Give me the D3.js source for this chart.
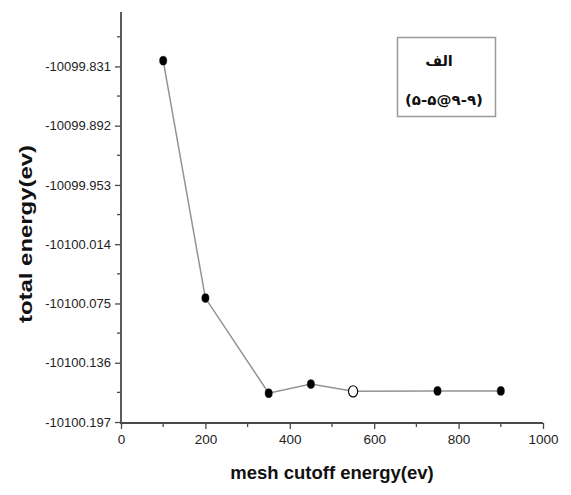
<!DOCTYPE html>
<html>
<head>
<meta charset="utf-8">
<script src="https://cdn.jsdelivr.net/npm/d3@7/dist/d3.min.js"></script>
<style>
  html, body { margin: 0; padding: 0; background: #fff; }
  svg { display: block; }
</style>
</head>
<body>
<svg id="chart" width="571" height="495"></svg>
<script>
// Convergence of total energy with the mesh cutoff energy
const cutoff = [100, 200, 350, 450, 550, 750, 900];
const totalEnergy = [-10099.8251, -10100.0694, -10100.1674, -10100.1579, -10100.1654, -10100.1650, -10100.1650];
const openMarker = [false, false, false, false, true, false, false];

const xTicks = [0, 200, 400, 600, 800, 1000];
const xMinorTicks = [100, 300, 500, 700, 900];
const yTicks = [-10099.831, -10099.892, -10099.953, -10100.014, -10100.075, -10100.136, -10100.197];
const yTickLabels = ["-10099.831", "-10099.892", "-10099.953", "-10100.014", "-10100.075", "-10100.136", "-10100.197"];
const yMinorTicks = [-10099.8005, -10099.8615, -10099.9225, -10099.9835, -10100.0445, -10100.1055, -10100.1665];

const legendTitle = "الف";
const legendSub = "(۵-۵@۹-۹)";
const xTitle = "mesh cutoff energy(ev)";
const yTitle = "total energy(ev)";

const svg = d3.select("#chart");
const plotLeft = 121, plotRight = 543, plotTop = 12, plotBottom = 423;

const x = d3.scaleLinear().domain([0, 1000]).range([plotLeft, plotRight]);
const y = d3.scaleLinear().domain([-10100.198, -10099.775]).range([plotBottom, plotTop]);

const axisColor = "#4a4a4a";
const labelFont = "'Liberation Sans', Arial, sans-serif";

// x axis: major ticks with labels, minor ticks without
const gx = svg.append("g").attr("transform", `translate(0,${plotBottom})`);
gx.call(d3.axisBottom(x).tickValues(xTicks).tickFormat(d3.format("d")).tickSize(6).tickSizeOuter(0).tickPadding(5));
gx.append("g").selectAll("line").data(xMinorTicks).join("line")
  .attr("x1", d => x(d)).attr("x2", d => x(d)).attr("y1", 0).attr("y2", 4)
  .attr("stroke", axisColor).attr("stroke-width", 1.3);

// y axis
const gy = svg.append("g").attr("transform", `translate(${plotLeft},0)`);
gy.call(d3.axisLeft(y).tickValues(yTicks).tickFormat((d, i) => yTickLabels[i]).tickSize(6).tickSizeOuter(0).tickPadding(4));
gy.append("g").selectAll("line").data(yMinorTicks).join("line")
  .attr("x1", 0).attr("x2", -4).attr("y1", d => y(d)).attr("y2", d => y(d))
  .attr("stroke", axisColor).attr("stroke-width", 1.3);

[gx, gy].forEach(g => {
  g.select(".domain").attr("stroke", axisColor).attr("stroke-width", 1.8);
  g.selectAll(".tick line").attr("stroke", axisColor).attr("stroke-width", 1.3);
  g.selectAll(".tick text").attr("fill", "#222").attr("font-family", labelFont).attr("font-size", 13);
});
gx.select(".domain").attr("d", `M${plotLeft - 1},0H${plotRight}`);
gy.select(".domain").attr("d", `M0,${plotTop}V${plotBottom + 1}`);
gx.selectAll(".tick text").attr("font-size", 13.5);

// axis titles
svg.append("text")
  .attr("x", 332).attr("y", 479)
  .attr("text-anchor", "middle")
  .attr("font-family", labelFont).attr("font-weight", "bold").attr("font-size", 18.5)
  .attr("fill", "#111")
  .text(xTitle);

svg.append("text")
  .attr("transform", "translate(32,234) rotate(-90)")
  .attr("text-anchor", "middle")
  .attr("font-family", labelFont).attr("font-weight", "bold").attr("font-size", 18)
  .attr("textLength", 178).attr("lengthAdjust", "spacingAndGlyphs")
  .attr("fill", "#111")
  .text(yTitle);

// data line and markers
const pts = cutoff.map((c, i) => ({ c, e: totalEnergy[i], open: openMarker[i] }));
svg.append("path")
  .datum(pts)
  .attr("fill", "none").attr("stroke", "#939393").attr("stroke-width", 1.5)
  .attr("d", d3.line().x(d => x(d.c)).y(d => y(d.e)));

svg.append("g").selectAll("ellipse").data(pts).join("ellipse")
  .attr("cx", d => x(d.c)).attr("cy", d => y(d.e))
  .attr("rx", d => d.open ? 4.6 : 3.6)
  .attr("ry", d => d.open ? 5.6 : 4.4)
  .attr("fill", d => d.open ? "#fff" : "#000")
  .attr("stroke", "#000").attr("stroke-width", d => d.open ? 1.1 : 0.5);

// legend box
svg.append("rect")
  .attr("x", 397.5).attr("y", 37.5).attr("width", 98).attr("height", 79)
  .attr("fill", "#fff").attr("stroke", "#9a9a9a").attr("stroke-width", 1.5);
svg.append("text")
  .attr("x", 439).attr("y", 66)
  .attr("text-anchor", "middle")
  .attr("font-family", "'DejaVu Sans', 'Noto Sans', sans-serif").attr("font-weight", "bold").attr("font-size", 14.5)
  .attr("fill", "#111")
  .text(legendTitle);
svg.append("text")
  .attr("x", 405).attr("y", 105)
  .attr("direction", "ltr").attr("unicode-bidi", "bidi-override")
  .attr("font-family", "'DejaVu Sans', 'Noto Sans', sans-serif").attr("font-weight", "bold").attr("font-size", 14)
  .attr("textLength", 78).attr("lengthAdjust", "spacingAndGlyphs")
  .attr("fill", "#111")
  .text(legendSub);
</script>
</body>
</html>
